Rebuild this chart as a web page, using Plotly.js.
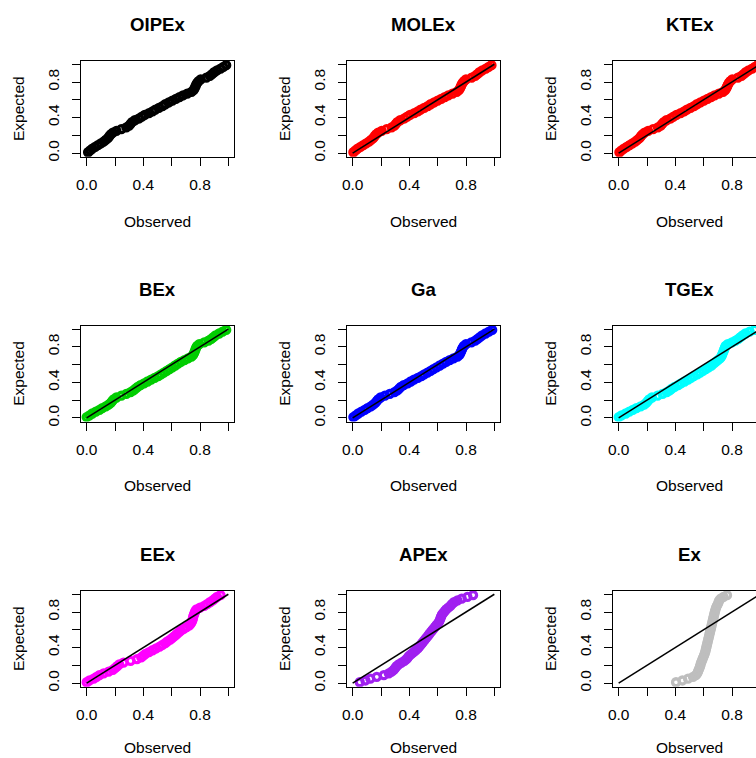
<!DOCTYPE html>
<html><head><meta charset="utf-8">
<script src="https://cdn.plot.ly/plotly-3.0.1.min.js"></script>
<style>html,body{margin:0;padding:0;overflow:hidden;background:#fff}</style>
</head><body><div id="chart" style="width:800px;height:800px"></div>
<script>
// Expected probabilities (y) shared by all panels
const expected = [0.01,0.03,0.05,0.07,0.09,0.11,0.13,0.15,0.17,0.19,0.21,0.23,0.25,0.27,0.29,0.31,0.33,0.35,0.37,0.39,0.41,0.43,0.45,0.47,0.49,0.51,0.53,0.55,0.57,0.59,0.61,0.63,0.65,0.67,0.69,0.71,0.73,0.75,0.77,0.79,0.81,0.83,0.85,0.87,0.89,0.91,0.93,0.95,0.97,0.99];

// Observed (fitted CDF) values per model
const observedOIPEx = [0.01,0.025,0.04,0.06,0.08,0.10,0.12,0.135,0.15,0.16,0.17,0.185,0.21,0.245,0.28,0.30,0.31,0.32,0.34,0.37,0.39,0.41,0.44,0.465,0.485,0.51,0.535,0.555,0.58,0.605,0.63,0.655,0.68,0.71,0.74,0.755,0.762,0.768,0.773,0.78,0.79,0.805,0.845,0.87,0.885,0.90,0.92,0.945,0.965,0.985];
const observedMOLEx = [0.005,0.02,0.035,0.055,0.075,0.095,0.115,0.13,0.145,0.155,0.165,0.18,0.205,0.24,0.275,0.295,0.305,0.315,0.335,0.365,0.385,0.405,0.435,0.46,0.48,0.505,0.53,0.55,0.575,0.60,0.625,0.65,0.675,0.705,0.735,0.75,0.758,0.764,0.769,0.776,0.786,0.80,0.84,0.865,0.88,0.895,0.915,0.94,0.96,0.98];
const observedKTEx = [0.005,0.02,0.037,0.057,0.077,0.097,0.117,0.132,0.147,0.157,0.168,0.183,0.208,0.243,0.277,0.297,0.307,0.318,0.337,0.367,0.387,0.408,0.437,0.462,0.482,0.507,0.532,0.552,0.577,0.602,0.627,0.652,0.677,0.707,0.737,0.752,0.76,0.766,0.771,0.778,0.788,0.802,0.842,0.867,0.882,0.897,0.917,0.942,0.962,0.982];
const observedBEx = [0.0,0.02,0.04,0.065,0.09,0.11,0.135,0.155,0.17,0.18,0.19,0.21,0.245,0.28,0.31,0.33,0.345,0.36,0.38,0.405,0.43,0.455,0.48,0.505,0.525,0.545,0.565,0.585,0.605,0.625,0.645,0.665,0.69,0.715,0.74,0.752,0.758,0.763,0.768,0.773,0.78,0.795,0.83,0.86,0.88,0.895,0.91,0.935,0.96,0.985];
const observedGa = [0.005,0.022,0.04,0.062,0.085,0.105,0.128,0.145,0.16,0.17,0.18,0.197,0.228,0.262,0.295,0.315,0.328,0.34,0.36,0.388,0.41,0.433,0.46,0.485,0.505,0.528,0.55,0.57,0.592,0.615,0.638,0.66,0.685,0.712,0.74,0.754,0.76,0.766,0.771,0.777,0.785,0.80,0.838,0.865,0.882,0.898,0.914,0.938,0.962,0.985];
const observedTGEx = [0.0,0.02,0.05,0.075,0.10,0.125,0.155,0.18,0.195,0.205,0.215,0.235,0.275,0.31,0.34,0.36,0.375,0.395,0.42,0.44,0.465,0.49,0.51,0.53,0.555,0.575,0.595,0.615,0.635,0.655,0.67,0.685,0.70,0.715,0.725,0.73,0.735,0.74,0.745,0.75,0.755,0.77,0.80,0.825,0.845,0.86,0.875,0.895,0.925,0.96];
const observedEEx = [0.0,0.02,0.05,0.07,0.09,0.12,0.155,0.185,0.20,0.215,0.23,0.26,0.31,0.355,0.385,0.40,0.415,0.44,0.465,0.49,0.515,0.535,0.555,0.57,0.59,0.605,0.62,0.635,0.65,0.665,0.685,0.705,0.725,0.735,0.742,0.747,0.75,0.753,0.757,0.762,0.767,0.775,0.80,0.83,0.85,0.87,0.89,0.905,0.92,0.945];
const observedAPEx = [0.05,0.09,0.125,0.17,0.22,0.255,0.275,0.29,0.30,0.31,0.325,0.345,0.365,0.38,0.39,0.40,0.415,0.43,0.445,0.46,0.47,0.48,0.49,0.50,0.51,0.52,0.53,0.54,0.55,0.56,0.57,0.58,0.59,0.60,0.61,0.615,0.62,0.625,0.63,0.64,0.65,0.66,0.675,0.69,0.70,0.715,0.74,0.77,0.81,0.85];
const observedEx = [0.405,0.45,0.49,0.525,0.545,0.555,0.56,0.565,0.57,0.575,0.578,0.582,0.587,0.592,0.597,0.602,0.607,0.611,0.614,0.617,0.62,0.623,0.626,0.629,0.632,0.635,0.638,0.641,0.644,0.647,0.65,0.653,0.656,0.659,0.662,0.665,0.668,0.671,0.674,0.677,0.68,0.684,0.688,0.693,0.70,0.705,0.71,0.72,0.74,0.765];

const panelNames = ['OIPEx','MOLEx','KTEx','BEx','Ga','TGEx','EEx','APEx','Ex'];
const panelColors = ['#000000','#FF0000','#FF0000','#00CD00','#0000FF','#00FFFF','#FF00FF','#A020F0','#BEBEBE'];
const panelObserved = [observedOIPEx,observedMOLEx,observedKTEx,observedBEx,observedGa,observedTGEx,observedEEx,observedAPEx,observedEx];
const showRefLine = [false,true,true,true,true,true,true,true,true];
const refLineX = [0,1];
const refLineY = [0,1];
const tickVals = [0,0.2,0.4,0.6,0.8,1.0];
const tickText = ['0.0','','0.4','','0.8',''];

const W = 800, H = 800;
const colLeft = [81,347,613], boxW = 153;
const rowTop = [60.7,325.5,590.7], boxH = 96;
const FONT = '"Liberation Sans", Arial, Helvetica, sans-serif';

const data = [];
const layout = {
  width: W, height: H,
  margin: {l:0,r:0,t:0,b:0},
  paper_bgcolor: '#ffffff', plot_bgcolor: '#ffffff',
  showlegend: false,
  font: {family: FONT, color: '#000000', size: 15},
  annotations: []
};

for (let k = 0; k < 9; k++) {
  const r = Math.floor(k/3), c = k % 3;
  const sfx = k === 0 ? '' : String(k+1);
  const xa = 'x' + sfx, ya = 'y' + sfx;
  const x0 = colLeft[c], x1 = colLeft[c] + boxW;
  const y0 = rowTop[r], y1 = rowTop[r] + boxH;
  const axCommon = {
    range: [-0.04, 1.04], autorange: false,
    showline: true, mirror: true, linecolor: '#000000', linewidth: 1,
    ticks: 'outside', ticklen: 8, tickwidth: 1, tickcolor: '#000000',
    tickmode: 'array', tickvals: tickVals, ticktext: tickText,
    showgrid: false, zeroline: false,
    tickfont: {family: FONT, size: 15.5, color: '#000000'},
    fixedrange: true
  };
  layout['xaxis' + sfx] = Object.assign({}, axCommon, {
    domain: [x0/W, x1/W], anchor: ya, ticklabelstandoff: 6
  });
  layout['yaxis' + sfx] = Object.assign({}, axCommon, {
    domain: [1 - y1/H, 1 - y0/H], anchor: xa, tickangle: -90, ticklabelstandoff: 7
  });

  data.push({
    type: 'scatter', mode: 'markers',
    x: panelObserved[k], y: expected,
    xaxis: xa, yaxis: ya,
    marker: {symbol: 'circle-open', size: 7, color: panelColors[k],
             line: {width: 3.3, color: panelColors[k]}},
    hoverinfo: 'skip'
  });
  if (showRefLine[k]) {
    data.push({
      type: 'scatter', mode: 'lines',
      x: refLineX, y: refLineY, xaxis: xa, yaxis: ya,
      line: {color: '#000000', width: 1.5}, hoverinfo: 'skip'
    });
  }

  const cx = (x0 + x1) / 2, cy = (y0 + y1) / 2;
  const obsOffset = r === 2 ? 61 : 64.3;
  layout.annotations.push({
    text: '<b>' + panelNames[k] + '</b>', xref: 'paper', yref: 'paper',
    x: cx / W, y: 1 - (y0 - 36.5) / H, xanchor: 'center', yanchor: 'middle',
    showarrow: false, font: {family: FONT, size: 18.6, color: '#000000'}
  });
  layout.annotations.push({
    text: 'Observed', xref: 'paper', yref: 'paper',
    x: cx / W, y: 1 - (y1 + obsOffset) / H, xanchor: 'center', yanchor: 'middle',
    showarrow: false, font: {family: FONT, size: 15.5, color: '#000000'}
  });
  layout.annotations.push({
    text: 'Expected', xref: 'paper', yref: 'paper', textangle: -90,
    x: (x0 - 62.7) / W, y: 1 - cy / H, xanchor: 'center', yanchor: 'middle',
    showarrow: false, font: {family: FONT, size: 15.5, color: '#000000'}
  });
}

Plotly.newPlot('chart', data, layout, {staticPlot: true, displayModeBar: false});
</script>
</body></html>
